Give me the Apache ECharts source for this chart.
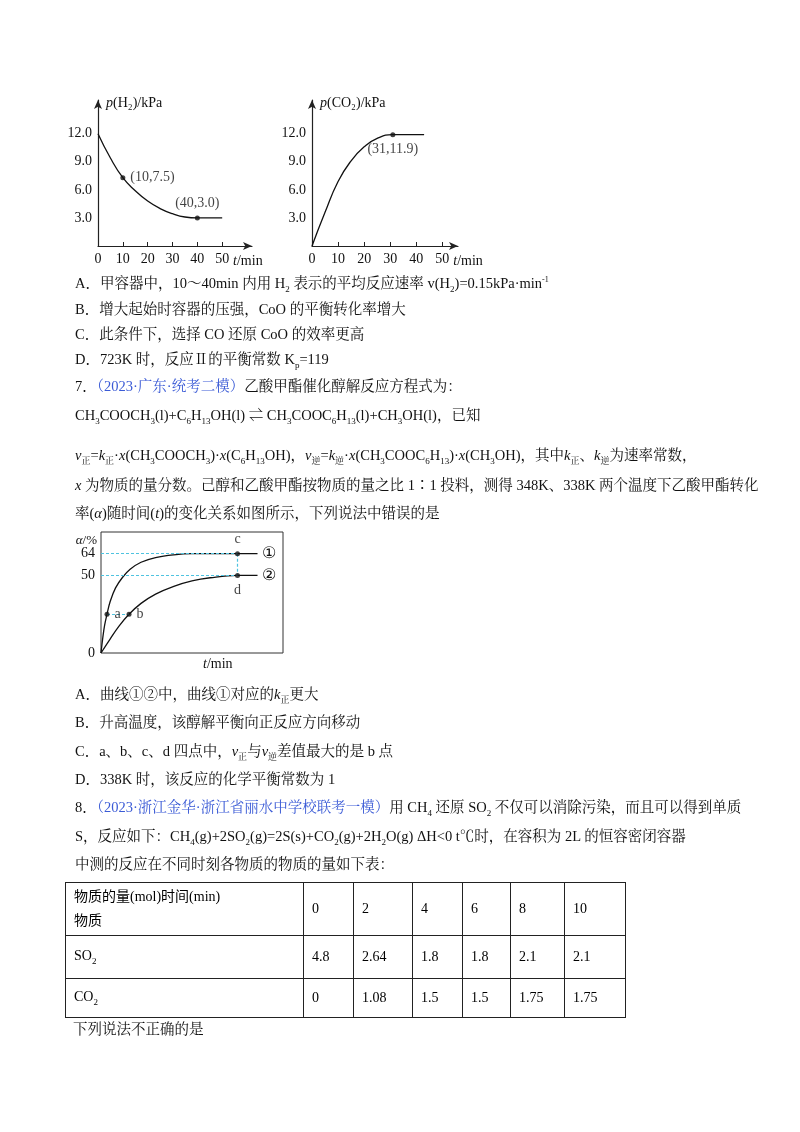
<!DOCTYPE html>
<html><head><meta charset="utf-8">
<script src="https://cdn.jsdelivr.net/npm/echarts@6/dist/echarts.min.js"></script>
<style>
body{margin:0;background:#fff;}
#c{position:absolute;left:0;top:0;width:800px;height:1132px;}
.t{position:absolute;left:75px;font-family:"Liberation Serif","Noto Serif CJK SC","Noto Sans CJK SC",serif;font-size:14.5px;color:#111;white-space:nowrap;}
.b{color:#3b5bd6;}
sub{font-size:9px;}
table{position:absolute;left:65px;top:882px;border-collapse:collapse;font-family:"Liberation Serif","Noto Sans CJK SC",serif;font-size:14px;}
td{border:1px solid #222;padding:0 8px;vertical-align:middle;}
</style></head><body>
<div id="c"></div>
<div class="t" style="top:271px">A．甲容器中，10～40min 内用 H<sub>2</sub> 表示的平均反应速率 v(H<sub>2</sub>)=0.15kPa·min<sup style="font-size:8px">-1</sup></div>
<div class="t" style="top:297px">B．增大起始时容器的压强，CoO 的平衡转化率增大</div>
<div class="t" style="top:322px">C．此条件下，选择 CO 还原 CoO 的效率更高</div>
<div class="t" style="top:347px">D．723K 时，反应Ⅱ的平衡常数 K<sub>p</sub>=119</div>
<div class="t" style="top:374px">7．<span class="b">（2023·广东·统考二模）</span>乙酸甲酯催化醇解反应方程式为：</div>
<div class="t" style="top:403px">CH<sub>3</sub>COOCH<sub>3</sub>(l)+C<sub>6</sub>H<sub>13</sub>OH(l) ⇌ CH<sub>3</sub>COOC<sub>6</sub>H<sub>13</sub>(l)+CH<sub>3</sub>OH(l)，已知</div>
<div class="t" style="top:443px"><i>v</i><sub>正</sub>=<i>k</i><sub>正</sub>·<i>x</i>(CH<sub>3</sub>COOCH<sub>3</sub>)·<i>x</i>(C<sub>6</sub>H<sub>13</sub>OH)，<i>v</i><sub>逆</sub>=<i>k</i><sub>逆</sub>·<i>x</i>(CH<sub>3</sub>COOC<sub>6</sub>H<sub>13</sub>)·<i>x</i>(CH<sub>3</sub>OH)，其中<i>k</i><sub>正</sub>、<i>k</i><sub>逆</sub>为速率常数，</div>
<div class="t" style="top:473px"><i>x</i> 为物质的量分数。己醇和乙酸甲酯按物质的量之比 1∶1 投料，测得 348K、338K 两个温度下乙酸甲酯转化</div>
<div class="t" style="top:501px">率(<i>α</i>)随时间(<i>t</i>)的变化关系如图所示，下列说法中错误的是</div>
<div class="t" style="top:682px">A．曲线①②中，曲线①对应的<i>k</i><sub>正</sub>更大</div>
<div class="t" style="top:710px">B．升高温度，该醇解平衡向正反应方向移动</div>
<div class="t" style="top:739px">C．a、b、c、d 四点中，<i>v</i><sub>正</sub>与<i>v</i><sub>逆</sub>差值最大的是 b 点</div>
<div class="t" style="top:767px">D．338K 时，该反应的化学平衡常数为 1</div>
<div class="t" style="top:795px">8．<span class="b">（2023·浙江金华·浙江省丽水中学校联考一模）</span>用 CH<sub>4</sub> 还原 SO<sub>2</sub> 不仅可以消除污染，而且可以得到单质</div>
<div class="t" style="top:824px">S，反应如下：CH<sub>4</sub>(g)+2SO<sub>2</sub>(g)=2S(s)+CO<sub>2</sub>(g)+2H<sub>2</sub>O(g) ΔH&lt;0 t℃时，在容积为 2L 的恒容密闭容器</div>
<div class="t" style="top:852px">中测的反应在不同时刻各物质的物质的量如下表：</div>
<table id="tb"></table>
<div class="t" style="top:1017px;left:73px">下列说法不正确的是</div>
<script>
// ---- data ----
const h2Curve=[[0,12],[5,9.4],[10,7.3],[15,5.9],[20,4.8],[25,4.0],[30,3.45],[35,3.1],[40,3.0],[50,3.0]];
const h2Points=[[10,7.3,'(10,7.5)','right'],[40,3.0,'(40,3.0)','top']];
const co2Curve=[[0,0],[5,3.6],[10,6.9],[15,9.1],[20,10.6],[25,11.5],[31,11.9],[43,11.9]];
const co2Points=[[31,11.9,'(31,11.9)','bottom']];
const curve1=[[0,0],[1,10],[2,18],[3.3,25],[5,33],[8,42],[12,49],[16,54],[22,58.5],[30,61.5],[40,63.3],[50,64],[75,64],[86,64]];
const curve2=[[0,0],[5,9],[10,17.5],[15.4,25],[22,32],[30,38],[40,43],[50,46.5],[60,48.5],[75,50],[86,50]];
const alphaPoints=[[3.3,25,'a','right'],[15.4,25,'b','right'],[75,64,'c','top'],[75,50,'d','bottom']];
const alphaTicks=[0,50,64];
const timeHeader=['0','2','4','6','8','10'];
const so2Row=['4.8','2.64','1.8','1.8','2.1','2.1'];
const co2Row=['0','1.08','1.5','1.5','1.75','1.75'];
// ---- table ----
const tb=document.getElementById('tb');
const widths=[237,49,58,49,47,53,60];
let html='<tr style="height:53px"><td style="width:'+(widths[0]-16)+'px;line-height:24px">物质的量(mol)时间(min)<br>物质</td>'+timeHeader.map((v,i)=>'<td style="width:'+(widths[i+1]-16)+'px">'+v+'</td>').join('')+'</tr>';
html+='<tr style="height:43px"><td>SO<sub>2</sub></td>'+so2Row.map(v=>'<td>'+v+'</td>').join('')+'</tr>';
html+='<tr style="height:39px"><td>CO<sub>2</sub></td>'+co2Row.map(v=>'<td>'+v+'</td>').join('')+'</tr>';
tb.innerHTML=html;
// ---- charts ----
const ff='"Liberation Serif","Noto Sans CJK SC",serif';
const ax={lineStyle:{color:'#222',width:1.2}};
function xA(gi,max,nameGap){return {gridIndex:gi,type:'value',min:0,max:max,axisLine:{lineStyle:ax.lineStyle,symbol:['none','arrow'],symbolSize:[6,9]},splitLine:{show:false},
 axisTick:{inside:true,length:4,lineStyle:{color:'#222'},customValues:[10,20,30,40,50]},axisLabel:{customValues:[0,10,20,30,40,50],color:'#111',fontFamily:ff,fontSize:14,margin:6},
 name:'{i|t}/min',nameLocation:'end',nameGap:nameGap,nameTextStyle:{color:'#111',fontFamily:ff,fontSize:14,verticalAlign:'top',padding:[8,0,0,0],rich:{i:{fontStyle:'italic',fontFamily:ff,fontSize:14}}}};}
function yA(gi,name){return {gridIndex:gi,type:'value',min:0,max:15.6,axisLine:{show:true,lineStyle:ax.lineStyle,symbol:['none','arrow'],symbolSize:[6,9]},splitLine:{show:false},
 axisTick:{show:false},axisLabel:{customValues:[3,6,9,12],formatter:v=>v.toFixed(1),color:'#111',fontFamily:ff,fontSize:14,margin:6},
 name:name,nameLocation:'end',nameGap:-10,nameTextStyle:{color:'#111',fontFamily:ff,fontSize:14,align:'left',padding:[0,0,0,8],rich:{i:{fontStyle:'italic',fontFamily:ff,fontSize:14}}}};}
const ch=echarts.init(document.getElementById('c'));
const pt=(arr,gi)=>({type:'scatter',xAxisIndex:gi,yAxisIndex:gi,symbolSize:5,itemStyle:{color:'#111'},
 data:arr.map(p=>({value:[p[0],p[1]],label:{position:p[3],color:'#111'}})),
 label:{show:true,formatter:q=>arr[q.dataIndex][2],color:'#111',fontFamily:ff,fontSize:14,distance:5},z:5});
ch.setOption({animation:false,
 grid:[{left:98,right:548,top:100,bottom:886},{left:312,right:342,top:100,bottom:886},{left:101,right:517,top:532,bottom:479,show:true,borderColor:'#333',borderWidth:1}],
 xAxis:[xA(0,62,-36),xA(1,56,-20),
  {gridIndex:2,type:'value',min:0,max:100,axisLine:{show:false},axisTick:{show:false},splitLine:{show:false},axisLabel:{show:false},
   name:'{i|t}/min',nameLocation:'end',nameGap:-80,nameTextStyle:{color:'#111',fontFamily:ff,fontSize:14,verticalAlign:'top',padding:[4,0,0,0],rich:{i:{fontStyle:'italic',fontFamily:ff,fontSize:14}}}}],
 yAxis:[yA(0,'{i|p}(H₂)/kPa'),yA(1,'{i|p}(CO₂)/kPa'),
  {gridIndex:2,type:'value',min:0,max:78,axisLine:{show:false},axisTick:{show:false},splitLine:{show:false},
   axisLabel:{customValues:alphaTicks,color:'#111',fontFamily:ff,fontSize:14,margin:6},
   name:'{i|α}/%',nameLocation:'end',nameGap:-10,nameTextStyle:{color:'#111',fontFamily:ff,fontSize:13,align:'right',verticalAlign:'top',padding:[0,4,0,0],rich:{i:{fontStyle:'italic',fontFamily:ff,fontSize:13}}}}],
 series:[
  {type:'line',xAxisIndex:0,yAxisIndex:0,smooth:0.5,showSymbol:false,data:h2Curve,lineStyle:{color:'#111',width:1.3}},
  pt(h2Points,0),
  {type:'line',xAxisIndex:1,yAxisIndex:1,smooth:0.5,showSymbol:false,data:co2Curve,lineStyle:{color:'#111',width:1.3}},
  pt(co2Points,1),
  {type:'line',xAxisIndex:2,yAxisIndex:2,smooth:0.4,showSymbol:false,data:curve1,lineStyle:{color:'#111',width:1.3},
   endLabel:{show:true,formatter:'①',fontSize:16,color:'#111',distance:4},
   markLine:{silent:true,symbol:'none',label:{show:false},lineStyle:{color:'#4fc3e0',type:[3,2],width:1.2},
    data:[[{coord:[0,64]},{coord:[75,64]}],[{coord:[0,50]},{coord:[75,50]}],[{coord:[75,64]},{coord:[75,50]}],[{coord:[3.3,25]},{coord:[15.4,25]}]]}},
  {type:'line',xAxisIndex:2,yAxisIndex:2,smooth:0.4,showSymbol:false,data:curve2,lineStyle:{color:'#111',width:1.3},
   endLabel:{show:true,formatter:'②',fontSize:16,color:'#111',distance:4}},
  pt(alphaPoints,2)
 ]});
</script>
</body></html>
